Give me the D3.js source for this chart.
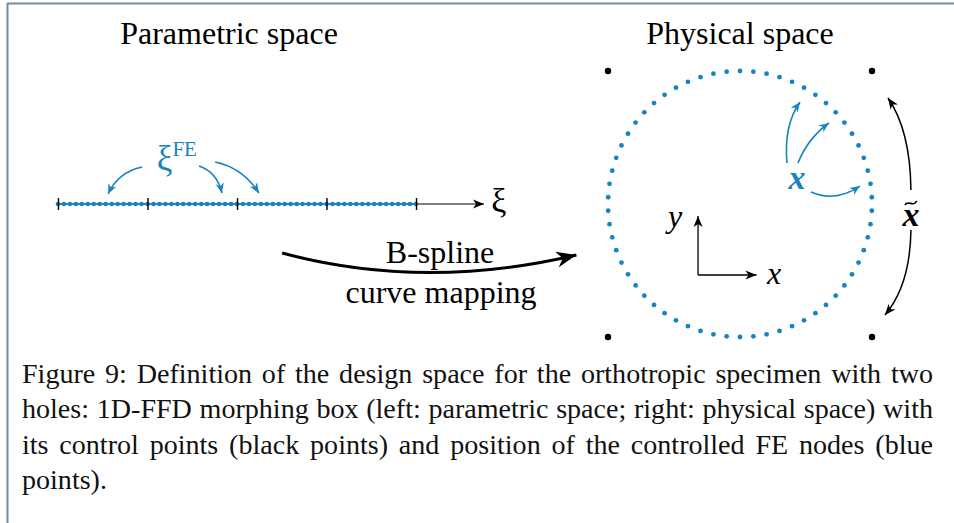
<!DOCTYPE html>
<html>
<head>
<meta charset="utf-8">
<script src="https://cdn.jsdelivr.net/npm/d3@7"></script>
<style>
  body { margin: 0; background: #fff; }
  svg { display: block; }
</style>
</head>
<body>
<div id="fig"></div>
<script>
// knot vector of the 1D B-spline (ticks on the ξ axis)
const knots = [0, 0.25, 0.5, 0.75, 1];
// number of FE intervals along ξ and number of FE nodes round the hole
const feIntervals = 60;
const holeNodes = 62;
// control points of the morphing box (normalised physical coords)
const controlPoints = [[-1, 1], [1, 1], [-1, -1], [1, -1]];
const titles = ['Parametric space', 'Physical space'];
const captionLines = [
  'Figure 9: Definition of the design space for the orthotropic specimen with two',
  'holes: 1D-FFD morphing box (left: parametric space; right: physical space) with',
  'its control points (black points) and position of the controlled FE nodes (blue',
  'points).'
];

const W = 954, H = 523;
const blue = '#1783c0';

const svg = d3.select('#fig').append('svg')
  .attr('width', W).attr('height', H)
  .style('font-family', "'Liberation Serif', serif");

svg.append('rect').attr('width', W).attr('height', H).attr('fill', '#fff');

// frame (only top and left edges visible)
svg.append('line').attr('x1', 7).attr('x2', W).attr('y1', 3.5).attr('y2', 3.5)
  .attr('stroke', '#6f8ca8').attr('stroke-width', 2);
svg.append('line').attr('x1', 7.5).attr('x2', 7.5).attr('y1', 3).attr('y2', H)
  .attr('stroke', '#6f8ca8').attr('stroke-width', 2);

// arrow heads
const defs = svg.append('defs');
function marker(id, color, len, half, notch) {
  defs.append('marker')
    .attr('id', id)
    .attr('viewBox', `${-len - 1} ${-half - 1} ${len + 2} ${2 * half + 2}`)
    .attr('refX', 0).attr('refY', 0)
    .attr('markerWidth', len + 2).attr('markerHeight', 2 * half + 2)
    .attr('markerUnits', 'userSpaceOnUse')
    .attr('orient', 'auto')
    .append('path')
    .attr('d', `M0,0 L${-len},${-half} L${-len + notch},0 L${-len},${half} Z`)
    .attr('fill', color);
}
marker('hk', '#000', 11, 4.5, 3);
marker('hb', blue, 10, 4.2, 3);
marker('hbig', '#000', 20, 8, 6);

function quad(p, sx, sy) {
  const a = p.map(q => [sx(q[0]), sy(q[1])]);
  const path = d3.path();
  path.moveTo(a[0][0], a[0][1]);
  path.quadraticCurveTo(a[1][0], a[1][1], a[2][0], a[2][1]);
  return path.toString();
}

// ---------- left: parametric space ----------
const xi = d3.scaleLinear().domain([0, 1]).range([58, 416]);
const yl = d3.scaleLinear().domain([0, 1]).range([204, 144]);

svg.append('text')
  .attr('x', 229).attr('y', 44)
  .attr('text-anchor', 'middle').attr('font-size', 32)
  .text(titles[0]);

// ξ axis line with arrow
svg.append('line')
  .attr('x1', xi(0)).attr('x2', xi(1.19))
  .attr('y1', yl(0)).attr('y2', yl(0))
  .attr('stroke', '#000').attr('stroke-width', 1.2)
  .attr('marker-end', 'url(#hk)');

svg.append('text')
  .attr('x', xi(1.21)).attr('y', yl(0) + 8)
  .attr('font-size', 34).text('ξ');

// FE nodes along ξ
const xiNodes = d3.range(feIntervals + 1).map(i => i / feIntervals);
svg.append('line')
  .attr('x1', xi(0)).attr('x2', xi(1))
  .attr('y1', yl(0)).attr('y2', yl(0))
  .attr('stroke', blue).attr('stroke-width', 1.6);

svg.append('g')
  .selectAll('circle')
  .data(xiNodes)
  .enter()
  .append('circle')
  .attr('cx', d => xi(d))
  .attr('cy', yl(0))
  .attr('r', 2.3)
  .attr('fill', blue);

// knot ticks through the line
const axis = svg.append('g')
  .attr('transform', `translate(0, ${yl(0) - 6})`)
  .call(d3.axisBottom(xi).tickValues(knots).tickSize(12).tickFormat(''));
axis.select('.domain').remove();
axis.selectAll('line').attr('stroke', '#000').attr('stroke-width', 1.4);

// ξ^FE label and its arrows
const feLabel = svg.append('text')
  .attr('x', xi(0.276)).attr('y', yl(0.56))
  .attr('fill', blue);
feLabel.append('tspan').attr('font-size', 35).text('ξ');
feLabel.append('tspan').attr('font-size', 21).attr('dy', -14).text('FE');

const feArrows = [
  [[0.235, 0.617], [0.168, 0.533], [0.140, 0.167]],
  [[0.394, 0.633], [0.444, 0.533], [0.458, 0.183]],
  [[0.439, 0.700], [0.517, 0.600], [0.561, 0.183]]
];
svg.append('g')
  .selectAll('path')
  .data(feArrows)
  .enter()
  .append('path')
  .attr('d', d => quad(d, xi, yl))
  .attr('fill', 'none')
  .attr('stroke', blue)
  .attr('stroke-width', 1.6)
  .attr('marker-end', 'url(#hb)');

// big mapping arrow
const mapArrow = [[0.626, -0.817], [1.02, -1.45], [1.448, -0.85]];
svg.append('path')
  .attr('d', quad(mapArrow, xi, yl))
  .attr('fill', 'none')
  .attr('stroke', '#000')
  .attr('stroke-width', 3)
  .attr('marker-end', 'url(#hbig)');

svg.append('text')
  .attr('x', 440).attr('y', 263)
  .attr('text-anchor', 'middle').attr('font-size', 32)
  .text('B-spline');
svg.append('text')
  .attr('x', 441).attr('y', 303)
  .attr('text-anchor', 'middle').attr('font-size', 32)
  .text('curve mapping');

// ---------- right: physical space ----------
const px = d3.scaleLinear().domain([-1, 1]).range([608, 872]);
const py = d3.scaleLinear().domain([-1, 1]).range([337, 71]);

svg.append('text')
  .attr('x', 740).attr('y', 44)
  .attr('text-anchor', 'middle').attr('font-size', 32)
  .text(titles[1]);

// FE nodes round the hole
const angles = d3.range(holeNodes).map(i => Math.PI / 2 + 2 * Math.PI * i / holeNodes);
svg.append('g')
  .selectAll('circle')
  .data(angles)
  .enter()
  .append('circle')
  .attr('cx', d => px(Math.cos(d)))
  .attr('cy', d => py(Math.sin(d)))
  .attr('r', 2.4)
  .attr('fill', blue);

// control points
svg.append('g')
  .selectAll('circle')
  .data(controlPoints)
  .enter()
  .append('circle')
  .attr('cx', d => px(d[0]))
  .attr('cy', d => py(d[1]))
  .attr('r', 3.2)
  .attr('fill', '#000');

// coordinate frame
const origin = [-0.318, -0.534];
svg.append('line')
  .attr('x1', px(origin[0])).attr('y1', py(origin[1]))
  .attr('x2', px(origin[0])).attr('y2', py(-0.09))
  .attr('stroke', '#000').attr('stroke-width', 1.3)
  .attr('marker-end', 'url(#hk)');
svg.append('line')
  .attr('x1', px(origin[0])).attr('y1', py(origin[1]))
  .attr('x2', px(0.125)).attr('y2', py(origin[1]))
  .attr('stroke', '#000').attr('stroke-width', 1.3)
  .attr('marker-end', 'url(#hk)');
svg.append('text')
  .attr('x', px(-0.545)).attr('y', py(-0.17))
  .attr('font-size', 32).attr('font-style', 'italic')
  .text('y');
svg.append('text')
  .attr('x', px(0.205)).attr('y', py(-0.6))
  .attr('font-size', 32).attr('font-style', 'italic')
  .text('x');

// bold x with arrows to the nodes
svg.append('text')
  .attr('x', px(0.432)).attr('y', py(0.115))
  .attr('text-anchor', 'middle')
  .attr('font-size', 34).attr('font-style', 'italic').attr('font-weight', 'bold')
  .attr('fill', blue)
  .text('x');

const xArrows = [
  [[0.356, 0.308], [0.330, 0.594], [0.455, 0.767]],
  [[0.439, 0.308], [0.515, 0.496], [0.674, 0.609]],
  [[0.538, 0.090], [0.720, 0.010], [0.909, 0.135]]
];
svg.append('g')
  .selectAll('path')
  .data(xArrows)
  .enter()
  .append('path')
  .attr('d', d => quad(d, px, py))
  .attr('fill', 'none')
  .attr('stroke', blue)
  .attr('stroke-width', 1.6)
  .attr('marker-end', 'url(#hb)');

// x tilde with its arrows
const tArrows = [
  [[1.295, 0.105], [1.290, 0.556], [1.121, 0.797]],
  [[1.295, -0.195], [1.290, -0.609], [1.098, -0.835]]
];
svg.append('g')
  .selectAll('path')
  .data(tArrows)
  .enter()
  .append('path')
  .attr('d', d => quad(d, px, py))
  .attr('fill', 'none')
  .attr('stroke', '#000')
  .attr('stroke-width', 1.5)
  .attr('marker-end', 'url(#hk)');

const tx = px(1.295), ty = py(-0.105);
svg.append('text')
  .attr('x', tx).attr('y', ty + 8)
  .attr('text-anchor', 'middle')
  .attr('font-size', 34).attr('font-style', 'italic').attr('font-weight', 'bold')
  .text('x');
svg.append('path')
  .attr('d', `M${tx - 6},${ty - 13} C${tx - 3},${ty - 18} ${tx + 1},${ty - 12} ${tx + 4},${ty - 15} L${tx + 6},${ty - 17}`)
  .attr('fill', 'none').attr('stroke', '#000').attr('stroke-width', 1.6);

// ---------- caption, justified ----------
// glyphs stretched a little to mimic the wider LaTeX font
const sx = 1.04;
const cap = svg.append('g')
  .attr('transform', `scale(${sx},1)`)
  .attr('font-size', 27).attr('fill', '#111');
const capX0 = 22 / sx, capX1 = 933 / sx;
const capY = [383, 418.5, 454, 489.5];
captionLines.forEach((line, li) => {
  const words = line.split(' ');
  const t = cap.append('text').attr('y', capY[li]);
  const spans = words.map(w => t.append('tspan').text(w));
  const widths = spans.map(s => s.node().getComputedTextLength());
  const last = li === captionLines.length - 1;
  const gap = last || words.length < 2 ? 6 : (capX1 - capX0 - d3.sum(widths)) / (words.length - 1);
  let x = capX0;
  spans.forEach((s, i) => {
    s.attr('x', x);
    x += widths[i] + gap;
  });
});
</script>
</body>
</html>
